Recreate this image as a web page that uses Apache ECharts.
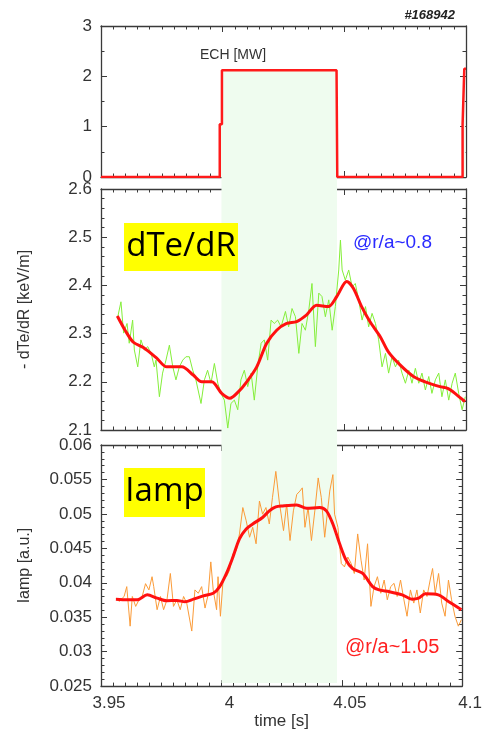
<!DOCTYPE html>
<html>
<head>
<meta charset="utf-8">
<script src="https://cdn.jsdelivr.net/npm/echarts@6/dist/echarts.min.js"></script>
<style>
html,body{margin:0;padding:0;background:#fff;}
#chart{width:485px;height:731px;}
</style>
</head>
<body>
<div id="chart"></div>
<script>
// ---- data (time [s], value) ----
const echPower = [[3.95,0],[3.9988,0],[3.9988,1.05],[3.9997,1.05],[3.9997,2.12],[4.0468,2.12],[4.0471,2.1],[4.0471,0],[4.0986,0],[4.0986,1.05],[4.0993,1.05],[4.0993,2.15],[4.1,2.15]];
const echWindow = [3.9995, 4.047];

const dteRaw = [[3.9569,2.335],[3.9582,2.366],[3.9593,2.301],[3.9607,2.321],[3.9616,2.280],[3.9630,2.328],[3.9637,2.266],[3.9651,2.231],[3.9664,2.287],[3.9678,2.266],[3.9692,2.273],[3.9706,2.259],[3.9719,2.231],[3.9726,2.245],[3.9740,2.169],[3.9753,2.218],[3.9767,2.245],[3.9781,2.276],[3.9795,2.231],[3.9808,2.204],[3.9822,2.231],[3.9836,2.245],[3.9849,2.252],[3.9863,2.252],[3.9877,2.224],[3.9890,2.204],[3.9911,2.155],[3.9925,2.204],[3.9938,2.224],[3.9952,2.197],[3.9966,2.238],[3.9980,2.197],[3.9993,2.176],[4.0007,2.162],[4.0021,2.104],[4.0034,2.155],[4.0048,2.162],[4.0062,2.142],[4.0075,2.204],[4.0089,2.224],[4.0103,2.190],[4.0117,2.218],[4.0130,2.162],[4.0144,2.231],[4.0158,2.280],[4.0171,2.287],[4.0185,2.245],[4.0199,2.328],[4.0212,2.321],[4.0226,2.328],[4.0240,2.314],[4.0258,2.346],[4.0271,2.314],[4.0285,2.352],[4.0299,2.335],[4.0313,2.259],[4.0326,2.321],[4.0340,2.307],[4.0354,2.349],[4.0367,2.404],[4.0381,2.273],[4.0395,2.384],[4.0408,2.377],[4.0422,2.335],[4.0436,2.370],[4.0450,2.307],[4.0463,2.356],[4.0477,2.432],[4.0484,2.494],[4.0491,2.432],[4.0504,2.411],[4.0518,2.432],[4.0532,2.397],[4.0545,2.404],[4.0559,2.370],[4.0573,2.328],[4.0587,2.356],[4.0600,2.314],[4.0614,2.342],[4.0628,2.321],[4.0641,2.287],[4.0655,2.231],[4.0669,2.259],[4.0682,2.218],[4.0696,2.252],[4.0710,2.231],[4.0723,2.245],[4.0737,2.218],[4.0751,2.197],[4.0765,2.224],[4.0778,2.197],[4.0792,2.228],[4.0806,2.197],[4.0819,2.218],[4.0833,2.183],[4.0847,2.211],[4.0860,2.176],[4.0874,2.204],[4.0888,2.218],[4.0901,2.169],[4.0915,2.204],[4.0929,2.162],[4.0943,2.197],[4.0956,2.218],[4.0970,2.176],[4.0984,2.142],[4.0997,2.169]];

const dteSmooth = [[3.9567,2.3365],[3.9599,2.307],[3.9633,2.282],[3.9674,2.271],[3.9729,2.249],[3.977,2.231],[3.9832,2.231],[3.9879,2.214],[3.9914,2.2],[3.9955,2.2],[3.9996,2.176],[4.003,2.166],[4.0064,2.179],[4.0099,2.2],[4.014,2.231],[4.0181,2.28],[4.0222,2.307],[4.0263,2.321],[4.0304,2.325],[4.0345,2.339],[4.0386,2.359],[4.0434,2.356],[4.0469,2.377],[4.051,2.408],[4.0537,2.394],[4.0571,2.356],[4.0605,2.325],[4.0647,2.294],[4.0681,2.262],[4.0729,2.235],[4.0784,2.211],[4.0832,2.2],[4.0893,2.19],[4.0927,2.186],[4.0962,2.173],[4.0996,2.159]];

const iampRaw = [[3.9562,0.03777],[3.9575,0.03729],[3.9596,0.03801],[3.9607,0.03944],[3.9621,0.03370],[3.9630,0.03801],[3.9644,0.03657],[3.9658,0.03753],[3.9671,0.03801],[3.9685,0.03987],[3.9699,0.03896],[3.9712,0.04088],[3.9719,0.03944],[3.9733,0.03609],[3.9747,0.03801],[3.9760,0.03609],[3.9774,0.03753],[3.9788,0.04135],[3.9801,0.03657],[3.9815,0.03753],[3.9829,0.03609],[3.9843,0.03801],[3.9856,0.03705],[3.9877,0.03299],[3.9890,0.03896],[3.9904,0.03848],[3.9918,0.03944],[3.9932,0.03633],[3.9945,0.03825],[3.9956,0.04303],[3.9966,0.03896],[3.9980,0.03609],[3.9986,0.04088],[3.9996,0.03514],[4.0007,0.04040],[4.0021,0.04088],[4.0034,0.04183],[4.0048,0.04422],[4.0062,0.04470],[4.0075,0.04709],[4.0089,0.05092],[4.0103,0.04900],[4.0117,0.04661],[4.0130,0.04805],[4.0144,0.04566],[4.0158,0.05187],[4.0171,0.04996],[4.0185,0.05092],[4.0199,0.04853],[4.0212,0.05235],[4.0226,0.05617],[4.0240,0.05187],[4.0258,0.04757],[4.0271,0.05139],[4.0285,0.04613],[4.0299,0.05044],[4.0313,0.05283],[4.0326,0.05331],[4.0336,0.05378],[4.0347,0.04805],[4.0360,0.05092],[4.0374,0.04613],[4.0388,0.05044],[4.0402,0.05522],[4.0415,0.05235],[4.0429,0.04661],[4.0450,0.05331],[4.0463,0.05570],[4.0470,0.04996],[4.0484,0.04805],[4.0498,0.04279],[4.0511,0.04231],[4.0525,0.04374],[4.0539,0.04279],[4.0552,0.04135],[4.0566,0.04709],[4.0580,0.04327],[4.0593,0.04040],[4.0607,0.04566],[4.0621,0.03657],[4.0634,0.03944],[4.0648,0.04088],[4.0662,0.03848],[4.0676,0.04040],[4.0689,0.03753],[4.0703,0.03944],[4.0717,0.03992],[4.0730,0.03801],[4.0744,0.04040],[4.0758,0.03753],[4.0771,0.03514],[4.0785,0.03896],[4.0799,0.03705],[4.0812,0.03896],[4.0826,0.03561],[4.0840,0.03896],[4.0854,0.03801],[4.0867,0.04040],[4.0877,0.04207],[4.0888,0.03848],[4.0902,0.04135],[4.0915,0.03705],[4.0929,0.03514],[4.0943,0.04040],[4.0956,0.03753],[4.0970,0.03514],[4.0984,0.03370],[4.0997,0.03466]];

const iampSmooth = [[3.9562,0.03762],[3.9610,0.03753],[3.9651,0.03753],[3.9692,0.03825],[3.9733,0.03777],[3.9774,0.03739],[3.9815,0.03743],[3.9849,0.03724],[3.9884,0.03762],[3.9925,0.03810],[3.9966,0.03848],[3.9993,0.03944],[4.0021,0.04135],[4.0048,0.04374],[4.0075,0.04637],[4.0103,0.04781],[4.0130,0.04853],[4.0171,0.04948],[4.0199,0.05044],[4.0226,0.05101],[4.0254,0.05115],[4.0313,0.05130],[4.0354,0.05082],[4.0408,0.05092],[4.0436,0.05044],[4.0463,0.04853],[4.0491,0.04566],[4.0518,0.04327],[4.0545,0.04207],[4.0587,0.04135],[4.0628,0.03944],[4.0655,0.03896],[4.0696,0.03872],[4.0751,0.03825],[4.0792,0.03762],[4.0819,0.03777],[4.0847,0.03839],[4.0901,0.03825],[4.0943,0.03729],[4.0997,0.03609]];

// ---- chart ----
const FONT = '"Liberation Sans", Arial, sans-serif';
const AX = '#3a3a3a';
const T0 = 3.95, T1 = 4.1;

function xAx(g, pos, labels) {
  return {
    type: 'value', gridIndex: g, position: pos, min: T0, max: T1, interval: 0.05,
    axisLine: {show: true, onZero: false, lineStyle: {color: AX, width: 1.3}},
    axisTick: {show: true, inside: true, length: 6, lineStyle: {color: AX, width: 1}},
    minorTick: {show: true, splitNumber: 10, length: 3.5, lineStyle: {color: AX, width: 1}},
    splitLine: {show: false},
    axisLabel: labels ? {show: true, fontFamily: FONT, fontSize: 17, color: '#333', margin: 9,
      padding: [0, 0, 0, 16], formatter: v => String(+v.toFixed(2))} : {show: false},
    name: labels ? 'time [s]' : '', nameLocation: 'middle', nameGap: 24,
    nameTextStyle: {fontFamily: FONT, fontSize: 17, color: '#333'}
  };
}
function yAx(g, pos, min, max, iv, minor, labels, fmt, name) {
  return {
    type: 'value', gridIndex: g, position: pos, min: min, max: max, interval: iv,
    axisLine: {show: true, onZero: false, lineStyle: {color: AX, width: 1.3}},
    axisTick: {show: true, inside: true, length: 6, lineStyle: {color: AX, width: 1}},
    minorTick: {show: true, splitNumber: minor, length: 3.5, lineStyle: {color: AX, width: 1}},
    splitLine: {show: false},
    axisLabel: labels ? {show: true, fontFamily: FONT, fontSize: 17, color: '#333', margin: 9, formatter: fmt} : {show: false},
    name: labels ? name : '', nameLocation: 'middle', nameGap: 68, nameRotate: 90,
    nameTextStyle: {fontFamily: FONT, fontSize: 16, color: '#333'}
  };
}

const grids = [
  {left: 101, right: 19, top: 26, height: 151},
  {left: 101, right: 19, top: 189, height: 241},
  {left: 101, right: 19, top: 445, height: 244},
  {left: 101, right: 19, top: 177, height: 506}
];

const option = {
  animation: false,
  backgroundColor: '#ffffff',
  grid: grids,
  xAxis: [
    xAx(0, 'bottom', false), xAx(0, 'top', false),
    xAx(1, 'bottom', false), xAx(1, 'top', false),
    xAx(2, 'bottom', true), xAx(2, 'top', false),
    {type: 'value', gridIndex: 3, min: T0, max: T1, show: false}
  ],
  yAxis: [
    yAx(0, 'left', 0, 3, 1, 2, true, v => String(Math.round(v)), ''),
    yAx(0, 'right', 0, 3, 1, 2, false),
    yAx(1, 'left', 2.1, 2.6, 0.1, 5, true, v => v.toFixed(1), '- dTe/dR [keV/m]'),
    yAx(1, 'right', 2.1, 2.6, 0.1, 5, false),
    yAx(2, 'left', 0.025, 0.06, 0.005, 5, true, v => String(+v.toFixed(3)), 'Iamp [a.u.]'),
    yAx(2, 'right', 0.025, 0.06, 0.005, 5, false),
    {type: 'value', gridIndex: 3, min: 0, max: 1, show: false}
  ],
  series: [
    {
      type: 'line', xAxisIndex: 6, yAxisIndex: 6, data: [[T0, 0]], symbol: 'none',
      lineStyle: {opacity: 0}, silent: true, z: 0,
      markArea: {silent: true, itemStyle: {color: '#effcef'},
        data: [[{xAxis: echWindow[0]}, {xAxis: echWindow[1]}]]}
    },
    {
      type: 'line', xAxisIndex: 0, yAxisIndex: 0, data: echPower, symbol: 'none',
      lineStyle: {color: '#ff1a1a', width: 2.5}, areaStyle: {color: '#effcef', opacity: 1}, z: 3
    },
    {
      type: 'line', xAxisIndex: 2, yAxisIndex: 2, data: dteRaw, symbol: 'none',
      lineStyle: {color: '#84ee3a', width: 1}, z: 3
    },
    {
      type: 'line', xAxisIndex: 2, yAxisIndex: 2, data: dteSmooth, symbol: 'none', smooth: 0.3,
      lineStyle: {color: '#ff1010', width: 3}, z: 4
    },
    {
      type: 'line', xAxisIndex: 4, yAxisIndex: 4, data: iampRaw, symbol: 'none',
      lineStyle: {color: '#fb9b38', width: 1}, z: 3
    },
    {
      type: 'line', xAxisIndex: 4, yAxisIndex: 4, data: iampSmooth, symbol: 'none', smooth: 0.3,
      lineStyle: {color: '#ff1010', width: 3}, z: 4
    }
  ],
  graphic: [
    {type: 'text', x: 455, y: 15, style: {text: '#168942', font: 'bold italic 13px ' + FONT, fill: '#222', textAlign: 'right', textVerticalAlign: 'middle'}},
    {type: 'text', x: 200, y: 55, style: {text: 'ECH [MW]', font: '14px ' + FONT, fill: '#333', textAlign: 'left', textVerticalAlign: 'middle'}},
    {type: 'rect', shape: {x: 124, y: 223, width: 114, height: 48}, style: {fill: '#ffff00'}, z: 10},
    {type: 'text', x: 181, y: 247, z: 11, style: {text: 'dTe/dR', font: '33px "Open Sans", sans-serif', fill: '#000', textAlign: 'center', textVerticalAlign: 'middle'}},
    {type: 'rect', shape: {x: 124, y: 468, width: 81, height: 49}, style: {fill: '#ffff00'}, z: 10},
    {type: 'text', x: 164.5, y: 492, z: 11, style: {text: 'Iamp', font: '33px "Open Sans", sans-serif', fill: '#000', textAlign: 'center', textVerticalAlign: 'middle'}},
    {type: 'text', x: 353, y: 243, z: 11, style: {text: '@r/a~0.8', font: '19px ' + FONT, fill: '#2a2aff', textAlign: 'left', textVerticalAlign: 'middle'}},
    {type: 'text', x: 345, y: 647, z: 11, style: {text: '@r/a~1.05', font: '20px ' + FONT, fill: '#ff2020', textAlign: 'left', textVerticalAlign: 'middle'}}
  ]
};

const chart = echarts.init(document.getElementById('chart'), null, {renderer: 'canvas'});
chart.setOption(option);
</script>
</body>
</html>
